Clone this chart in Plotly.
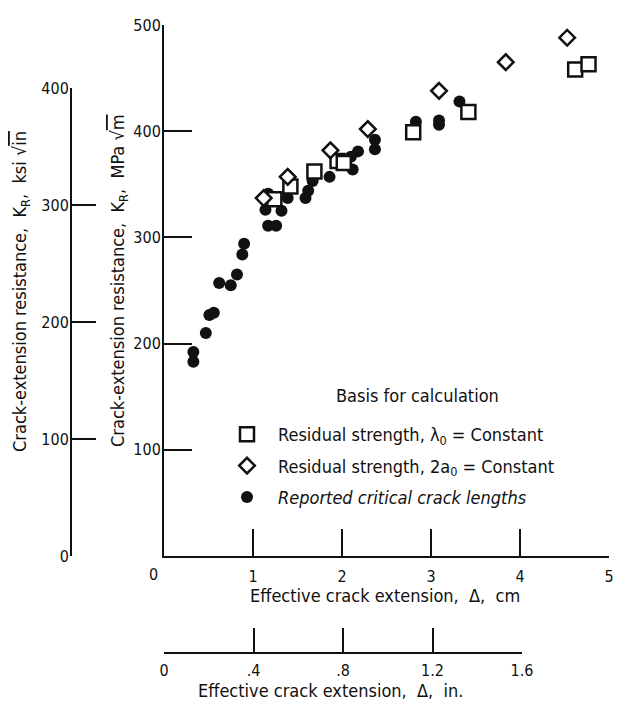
import plotly.graph_objects as go

# ---------------- data ----------------
# Residual strength, lambda0 = constant  (open squares)
sq_x = [1.24, 1.42, 1.69, 1.95, 2.02, 2.80, 3.42, 4.62, 4.77]
sq_y = [336, 348, 362, 372, 370, 399, 418, 458, 463]

# Residual strength, 2a0 = constant  (open diamonds)
dm_x = [1.12, 1.39, 1.87, 2.29, 3.09, 3.84, 4.53]
dm_y = [337, 357, 382, 402, 438, 465, 488]

# Reported critical crack lengths  (filled circles)
ci_x = [0.33, 0.33, 0.47, 0.51, 0.56, 0.62, 0.75, 0.82, 0.88, 0.90,
        1.14, 1.17, 1.26, 1.32, 1.17, 1.39, 1.59, 1.62, 1.67, 1.86,
        2.10, 2.12, 2.18, 2.37, 2.37, 2.83, 3.09, 3.09, 3.32]
ci_y = [192, 183, 210, 227, 229, 257, 255, 265, 284, 294,
        326, 311, 311, 325, 341, 337, 337, 344, 353, 357,
        376, 364, 381, 383, 392, 409, 410, 406, 428]

# Axis ticks
cm_ticks = [1, 2, 3, 4, 5]
mpa_ticks = [100, 200, 300, 400, 500]
ksi_ticks = [0, 100, 200, 300, 400]
in_ticks = [0, 0.4, 0.8, 1.2, 1.6]
in_ticktext = ["0", ".4", ".8", "1.2", "1.6"]

# ---------------- layout helpers ----------------
W, H = 625, 702
def fx(p):
    return p / W
def fy(p):
    return 1 - p / H

FONT = "Liberation Sans Narrow, DejaVu Sans Condensed, Arial Narrow, sans-serif"
BLACK = "#111111"

fig = go.Figure()

fig.add_trace(go.Scatter(
    x=ci_x, y=ci_y, mode="markers", name="<i>Reported critical crack lengths</i>",
    marker=dict(symbol="circle", size=12, color=BLACK, line=dict(width=0)),
    cliponaxis=False, legendrank=3, legendgroup="c",
))
fig.add_trace(go.Scatter(
    x=sq_x, y=sq_y, mode="markers", name="Residual strength, \u03bb<sub>0</sub> = Constant",
    marker=dict(symbol="square", size=14, color="white", line=dict(width=2.5, color=BLACK)),
    cliponaxis=False, legendrank=1, legendgroup="a",
))
fig.add_trace(go.Scatter(
    x=dm_x, y=dm_y, mode="markers", name="Residual strength, 2a<sub>0</sub> = Constant",
    marker=dict(symbol="diamond", size=12, color="white", line=dict(width=2.5, color=BLACK)),
    cliponaxis=False, legendrank=2, legendgroup="b",
))

# empty traces so that the secondary axes' subplots exist
fig.add_trace(go.Scatter(x=in_ticks, y=[None] * len(in_ticks), xaxis="x2", yaxis="y",
                         mode="markers", showlegend=False, hoverinfo="skip"))
fig.add_trace(go.Scatter(x=[None] * len(ksi_ticks), y=ksi_ticks, xaxis="x", yaxis="y2",
                         mode="markers", showlegend=False, hoverinfo="skip"))

axis_common = dict(showgrid=False, zeroline=False, showline=True, linecolor=BLACK,
                   linewidth=2, ticks="inside", tickcolor=BLACK, tickwidth=2,
                   tickfont=dict(family=FONT, size=16, color=BLACK))

fig.update_layout(
    width=W, height=H, autosize=False,
    margin=dict(l=0, r=0, t=0, b=0, autoexpand=False),
    paper_bgcolor="white", plot_bgcolor="rgba(0,0,0,0)",
    font=dict(family=FONT, size=16, color=BLACK),
    xaxis=dict(domain=[fx(164), fx(609)], range=[0, 5], anchor="y",
               tickvals=cm_ticks, ticklen=27, ticklabelstandoff=5, **axis_common),
    yaxis=dict(domain=[fy(556), fy(25)], range=[0, 500], anchor="x",
               tickvals=mpa_ticks, ticklen=28, ticklabelstandoff=-2, **axis_common),
    yaxis2=dict(domain=[fy(556), fy(88)], range=[0, 400], anchor="free",
                position=fx(71), side="left",
                tickvals=ksi_ticks, ticklen=24, ticklabelstandoff=-2, **axis_common),
    xaxis2=dict(domain=[fx(164), fx(522)], range=[0, 1.6], anchor="free",
                position=fy(653), side="bottom",
                tickvals=in_ticks, ticktext=in_ticktext, ticklen=24,
                ticklabelstandoff=3, **axis_common),
    showlegend=True,
    legend=dict(
        x=fx(216), y=fy(416), xanchor="left", yanchor="top",
        bgcolor="rgba(0,0,0,0)", borderwidth=0,
        font=dict(family=FONT, size=18, color=BLACK),
        traceorder="grouped", tracegroupgap=5, itemsizing="trace", itemwidth=52,
    ),
)

def note(text, x, y, size=18, angle=0):
    return dict(text=text, x=fx(x), y=fy(y), xref="paper", yref="paper",
                xanchor="center", yanchor="middle", showarrow=False,
                textangle=angle, font=dict(family=FONT, size=size, color=BLACK))

annotations = [
    note("0", 153, 574, size=16),
    note("Basis for calculation", 418, 395),
    note("Effective crack extension,  \u0394,  cm", 385, 595),
    note("Effective crack extension,  \u0394,  in.", 330, 690),
    note("Crack-extension resistance,  K<sub>R</sub>,  MPa \u221a<span style='text-decoration:overline'>m</span>",
         119, 281, angle=-90),
    note("Crack-extension resistance,  K<sub>R</sub>,  ksi \u221a<span style='text-decoration:overline'>in</span>",
         21, 292, angle=-90),
]
fig.update_layout(annotations=annotations)

fig.write_html("out.html", config={"displayModeBar": False},
               post_script="document.body.style.margin='0';document.body.style.overflow='hidden';")
